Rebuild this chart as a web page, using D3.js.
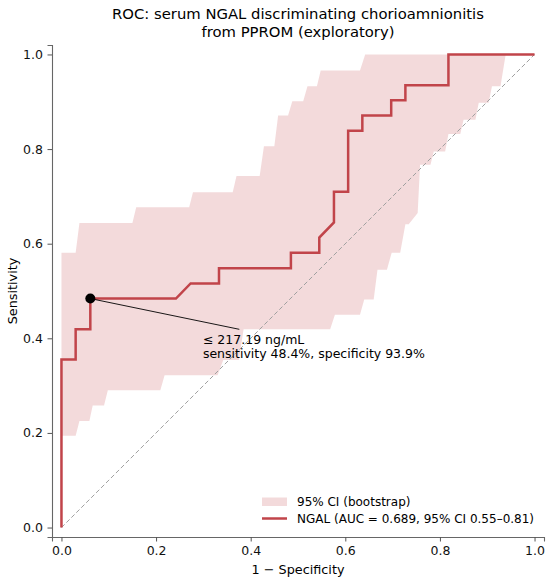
<!DOCTYPE html>
<html>
<head>
<meta charset="utf-8">
<script src="https://cdn.jsdelivr.net/npm/d3@7"></script>
<style>
  html, body { margin: 0; padding: 0; background: #fff; }
  svg { display: block; font-family: "DejaVu Sans", sans-serif; }
</style>
</head>
<body>
<svg id="chart" width="550" height="583"></svg>
<script>
// ---- Data ----
const rocFpr = [0, 0, 0.030, 0.030, 0.061, 0.061, 0.242, 0.273, 0.333, 0.333, 0.485, 0.485, 0.545, 0.545, 0.576, 0.576, 0.606, 0.606, 0.636, 0.636, 0.697, 0.697, 0.727, 0.727, 0.818, 0.818, 1.0];
const rocTpr = [0, 0.355, 0.355, 0.419, 0.419, 0.484, 0.484, 0.516, 0.516, 0.548, 0.548, 0.581, 0.581, 0.613, 0.645, 0.710, 0.710, 0.839, 0.839, 0.871, 0.871, 0.903, 0.903, 0.935, 0.935, 1.0, 1.0];

const ciUpperFpr = [0, 0.030, 0.038, 0.150, 0.158, 0.270, 0.278, 0.362, 0.370, 0.419, 0.428, 0.450, 0.458, 0.479, 0.488, 0.511, 0.520, 0.540, 0.548, 0.631, 0.642, 1.0];
const ciUpperTpr = [0.581, 0.581, 0.644, 0.644, 0.677, 0.677, 0.709, 0.709, 0.743, 0.743, 0.806, 0.806, 0.871, 0.871, 0.901, 0.901, 0.933, 0.933, 0.966, 0.966, 1.0, 1.0];

const ciLowerFpr = [0, 0.030, 0.038, 0.059, 0.066, 0.090, 0.098, 0.209, 0.218, 0.330, 0.342, 0.375, 0.385, 0.568, 0.578, 0.631, 0.640, 0.660, 0.668, 0.688, 0.698, 0.716, 0.727, 0.734, 0.753, 0.758, 0.780, 0.787, 0.811, 0.818, 0.843, 0.850, 0.875, 0.882, 0.903, 0.910, 0.928, 0.939, 1.0];
const ciLowerTpr = [0.194, 0.194, 0.225, 0.225, 0.258, 0.258, 0.290, 0.290, 0.322, 0.322, 0.354, 0.354, 0.419, 0.419, 0.450, 0.450, 0.482, 0.482, 0.545, 0.545, 0.581, 0.581, 0.641, 0.641, 0.665, 0.767, 0.767, 0.795, 0.795, 0.832, 0.832, 0.862, 0.862, 0.898, 0.898, 0.933, 0.933, 1.0, 1.0];

const cutoffPoint = { fpr: 0.061, tpr: 0.484 };
const cutoffLabel = ["\u2264 217.19 ng/mL", "sensitivity 48.4%, specificity 93.9%"];
const annotTextPos = { fpr: 0.299, tpr: 0.389 };
const annotLineEnd = { fpr: 0.376, tpr: 0.419 };

const xTicks = [0, 0.2, 0.4, 0.6, 0.8, 1.0];
const yTicks = [0, 0.2, 0.4, 0.6, 0.8, 1.0];

const titleLines = ["ROC: serum NGAL discriminating chorioamnionitis", "from PPROM (exploratory)"];
const xLabel = "1 \u2212 Specificity";
const yLabel = "Sensitivity";
const legendLabels = ["95% CI (bootstrap)", "NGAL (AUC = 0.689, 95% CI 0.55\u20130.81)"];

// ---- Layout ----
const lineColor = "#c1444a";
const svg = d3.select("#chart");
const mLeft = 52, mRight = 544, mTop = 45, mBottom = 537;

const x = d3.scaleLinear().domain([-0.02, 1.02]).range([mLeft, mRight]);
const y = d3.scaleLinear().domain([-0.02, 1.02]).range([mBottom, mTop]);

// CI band polygon (upper left->right, lower right->left)
const bandPts = ciUpperFpr.map((f, i) => [f, ciUpperTpr[i]])
  .concat(ciLowerFpr.map((f, i) => [f, ciLowerTpr[i]]).reverse());
const poly = d3.line().x(d => x(d[0])).y(d => y(d[1]));
svg.append("path")
  .attr("d", poly(bandPts) + "Z")
  .attr("fill", lineColor)
  .attr("fill-opacity", 0.2)
  .attr("stroke", "none");

// chance diagonal
svg.append("path")
  .attr("d", poly([[0, 0], [1, 1]]))
  .attr("stroke", "#a0a0a0")
  .attr("stroke-width", 1)
  .attr("stroke-dasharray", "4.5,2.5")
  .attr("fill", "none");

// ROC curve
svg.append("path")
  .attr("d", poly(rocFpr.map((f, i) => [f, rocTpr[i]])))
  .attr("stroke", lineColor)
  .attr("stroke-width", 2.5)
  .attr("stroke-linejoin", "miter")
  .attr("fill", "none");

// annotation line
svg.append("line")
  .attr("x1", x(cutoffPoint.fpr)).attr("y1", y(cutoffPoint.tpr))
  .attr("x2", x(annotLineEnd.fpr)).attr("y2", y(annotLineEnd.tpr))
  .attr("stroke", "#000").attr("stroke-width", 0.9);

// marker
svg.append("circle")
  .attr("cx", x(cutoffPoint.fpr)).attr("cy", y(cutoffPoint.tpr))
  .attr("r", 5).attr("fill", "#000");

// annotation text
const at = svg.append("text")
  .attr("x", x(annotTextPos.fpr)).attr("y", y(annotTextPos.tpr))
  .attr("font-size", 12.5).attr("fill", "#000");
cutoffLabel.forEach((t, i) => {
  at.append("tspan").attr("x", x(annotTextPos.fpr)).attr("dy", i === 0 ? 0 : 14.8).text(t);
});

// axes
const xAxis = svg.append("g").attr("transform", `translate(0,${mBottom})`)
  .call(d3.axisBottom(x).tickValues(xTicks).tickFormat(d3.format(".1f")).tickSizeOuter(0).tickSize(4.5).tickPadding(4.5));
const yAxis = svg.append("g").attr("transform", `translate(${mLeft},0)`)
  .call(d3.axisLeft(y).tickValues(yTicks).tickFormat(d3.format(".1f")).tickSizeOuter(0).tickSize(4.5).tickPadding(4.5));
[xAxis, yAxis].forEach(g => {
  g.select(".domain").attr("stroke", "#666").attr("stroke-width", 1.1);
  g.selectAll(".tick line").attr("stroke", "#555").attr("stroke-width", 1);
  g.selectAll(".tick text").attr("font-size", 12.5).attr("fill", "#111")
    .attr("font-family", "DejaVu Sans, sans-serif");
});

// axis labels
svg.append("text").attr("x", (mLeft + mRight) / 2).attr("y", 574)
  .attr("text-anchor", "middle").attr("font-size", 12.8).attr("fill", "#000").text(xLabel);
svg.append("text").attr("transform", `translate(17,${(mTop + mBottom) / 2}) rotate(-90)`)
  .attr("text-anchor", "middle").attr("font-size", 12.8).attr("fill", "#000").text(yLabel);

// title
titleLines.forEach((t, i) => {
  svg.append("text").attr("x", (mLeft + mRight) / 2).attr("y", 18.5 + i * 18.5)
    .attr("text-anchor", "middle").attr("font-size", 14.8).attr("fill", "#000").text(t);
});

// legend
const lg = svg.append("g");
lg.append("rect").attr("x", 262).attr("y", 497.5).attr("width", 25).attr("height", 8.5)
  .attr("fill", lineColor).attr("fill-opacity", 0.2);
lg.append("line").attr("x1", 262).attr("x2", 287).attr("y1", 518.5).attr("y2", 518.5)
  .attr("stroke", lineColor).attr("stroke-width", 2.5);
legendLabels.forEach((t, i) => {
  lg.append("text").attr("x", 297).attr("y", 506 + i * 17)
    .attr("font-size", 12).attr("fill", "#000").text(t);
});
</script>
</body>
</html>
